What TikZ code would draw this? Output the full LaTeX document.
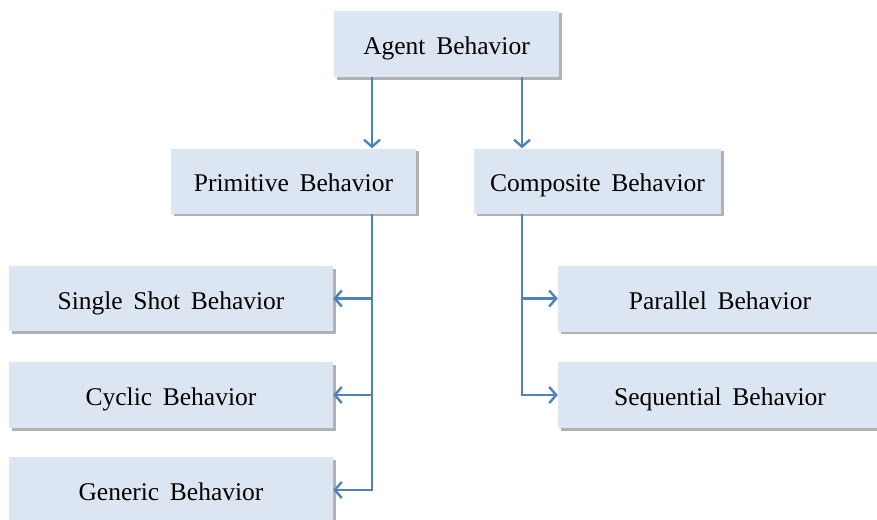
\documentclass[tikz,border=0pt]{standalone}
\usepackage{fontspec}
\setmainfont{Liberation Serif}
\usetikzlibrary{arrows.meta,shadows}
\definecolor{boxfill}{HTML}{DCE6F2}
\definecolor{linkblue}{HTML}{4F81BD}
\newcommand{\boxtextfont}{\fontsize{25.5}{30}\selectfont\spaceskip=0.42em\relax}
\begin{document}
\begin{tikzpicture}[x=1pt,y=-1pt,
  box/.style={rectangle, fill=boxfill, draw=none, inner sep=0pt,
    font=\boxtextfont, text height=23pt, text depth=2pt,
    drop shadow={shadow xshift=2.5pt, shadow yshift=-2.5pt, fill=black, opacity=0.3}},
  link/.style={draw=linkblue, line width=2.6pt, -{Straight Barb[length=7pt,width=16pt,line width=2.4pt]}},
  trunk/.style={draw=linkblue, line width=2.6pt}]
\useasboundingbox (0,0) rectangle (877,519);
% tree nodes
\node[box, minimum width=225pt, minimum height=66pt] (agent) at (446.5,44) {Agent Behavior};
\node[box, minimum width=245pt, minimum height=65pt] (prim) at (293.5,181) {Primitive Behavior};
\node[box, minimum width=247pt, minimum height=65pt] (comp) at (597.5,181) {Composite Behavior};
\node[box, minimum width=324pt, minimum height=65pt] (single) at (171,298.5) {Single Shot Behavior};
\node[box, minimum width=324pt, minimum height=66pt] (cyclic) at (171,395) {Cyclic Behavior};
\node[box, minimum width=324pt, minimum height=66pt] (generic) at (171,490) {Generic Behavior};
\node[box, minimum width=324pt, minimum height=66pt] (parallel) at (720,298.5) {Parallel Behavior};
\node[box, minimum width=324pt, minimum height=66pt] (seq) at (720,395) {Sequential Behavior};
% vertical trunk positions
\coordinate (tl) at (372,0);
\coordinate (tr) at (522,0);
% connectors
\draw[link] (agent.south -| tl) -- (prim.north -| tl);
\draw[link] (agent.south -| tr) -- (comp.north -| tr);
\draw[trunk] (prim.south -| tl) -- ([yshift=-1.3pt]generic.east -| tl);
\draw[link] (single.east -| tl) -- (single.east);
\draw[link] (cyclic.east -| tl) -- (cyclic.east);
\draw[link] (generic.east -| tl) -- (generic.east);
\draw[trunk] (comp.south -| tr) -- ([yshift=-1.3pt]seq.west -| tr);
\draw[link] (parallel.west -| tr) -- (parallel.west);
\draw[link] (seq.west -| tr) -- (seq.west);
\end{tikzpicture}
\end{document}
